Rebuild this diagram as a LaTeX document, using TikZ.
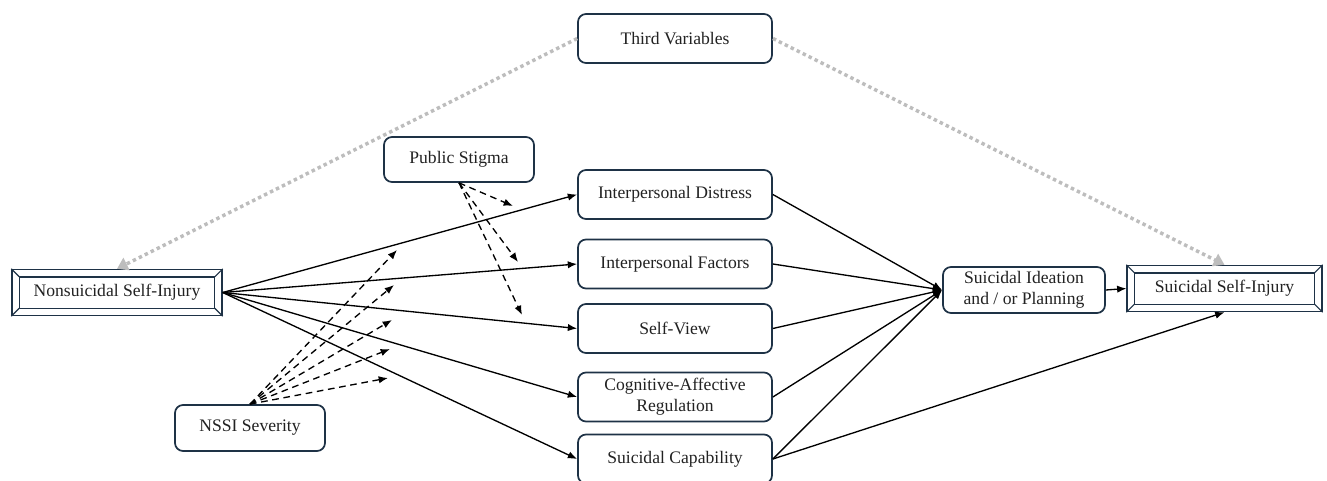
\documentclass[tikz,border=0pt]{standalone}
\usepackage{fontspec}
\setmainfont{Liberation Serif}
\usetikzlibrary{arrows.meta,calc}
\definecolor{boxline}{HTML}{1E3246}
\definecolor{txt}{HTML}{222222}
\definecolor{dotgray}{HTML}{BDBDBD}
\begin{document}
\begin{tikzpicture}[x=0.75pt,y=-0.75pt,
  lbl/.style={text=txt,align=center,font=\fontsize{13.2}{15.5}\selectfont,inner sep=0pt},
  box/.style={lbl,draw=boxline,line width=1.3pt,rounded corners=6pt,fill=white,minimum width=145.5pt,minimum height=36.75pt},
  framebox/.style={lbl,draw=boxline,line width=1.1pt,fill=white,minimum height=34.5pt},
  arr/.style={-{Latex[length=7pt,width=5.5pt]},line width=1pt,black},
  darr/.style={arr,dash pattern=on 5pt off 3.5pt},
  garr/.style={dotgray,line width=2.6pt,dash pattern=on 2.6pt off 2.4pt,-{Triangle[length=8pt,width=10pt]}},
]
\useasboundingbox (0,0) rectangle (1327,481);

% nodes
\node[box] (tv) at (675,38.5) {Third Variables};
\node[box,minimum width=112.5pt,minimum height=33.75pt] (ps) at (459,159.5) {Public Stigma};
\node[box] (id) at (675,194.5) {Interpersonal Distress};
\node[box] (if) at (675,264) {Interpersonal Factors};
\node[box] (sv) at (675,328.5) {Self-View};
\node[box] (ca) at (675,397) {Cognitive-Affective\\Regulation};
\node[box] (sc) at (675,459) {Suicidal Capability};
\node[box,minimum width=112.5pt,minimum height=34.5pt] (ns) at (250,428) {NSSI Severity};
\node[box,minimum width=121.5pt,minimum height=34.5pt] (si) at (1024,290) {Suicidal Ideation\\and / or Planning};
\node[framebox,minimum width=157.5pt] (nsi) at (117,292.5) {Nonsuicidal Self-Injury};
\node[framebox,minimum width=146pt] (ssi) at (1224.5,288.5) {Suicidal Self-Injury};

% bevel frames
\foreach \n in {nsi,ssi}{
  \draw[boxline,line width=1.1pt] ($(\n.north west)+(6pt,-6pt)$) rectangle ($(\n.south east)+(-6pt,6pt)$);
  \draw[boxline,line width=0.8pt] (\n.north west) -- ++(6pt,-6pt);
  \draw[boxline,line width=0.8pt] (\n.north east) -- ++(-6pt,-6pt);
  \draw[boxline,line width=0.8pt] (\n.south west) -- ++(6pt,6pt);
  \draw[boxline,line width=0.8pt] (\n.south east) -- ++(-6pt,6pt);
}

% tips of moderation arrows
\coordinate (p1) at (513,206);
\coordinate (p2) at (518,262);
\coordinate (p3) at (522,315);
\coordinate (n1) at (397,250);
\coordinate (n2) at (394,285);
\coordinate (n3) at (392,320);
\coordinate (n4) at (390,349);
\coordinate (n5) at (388,378);

% third variables
\draw[garr] (tv.west) -- (nsi.north);
\draw[garr] (tv.east) -- (ssi.north);

% NSI fan
\foreach \t in {id,if,sv,ca,sc}{
  \draw[arr] (nsi.east) -- (\t.west);
  \draw[arr] (\t.east) -- (si.west);
}
\draw[arr] (sc.east) -- (ssi.south);
\draw[arr] (si.east) -- (ssi.west);

% moderators
\foreach \c in {p1,p2,p3}{ \draw[darr] (ps.south) -- (\c); }
\foreach \c in {n1,n2,n3,n4,n5}{ \draw[darr] (ns.north) -- (\c); }
\end{tikzpicture}
\end{document}
